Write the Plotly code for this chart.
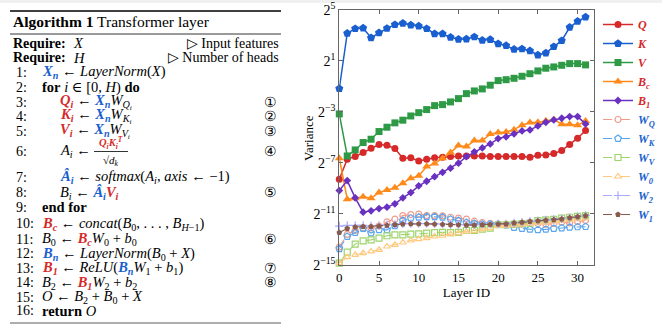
import plotly.graph_objects as go
import numpy as np

W, H = 662, 325

layers = list(range(32))

# log2(variance)
Q_log2 = [-8.28,-6.71,-6.51,-6.20,-5.85,-5.57,-5.62,-5.88,-6.64,-6.61,-6.85,-6.71,-6.61,-6.56,-6.51,-6.46,
          -6.46,-6.46,-6.46,-6.51,-6.51,-6.51,-6.51,-6.51,-6.56,-6.40,-6.38,-6.27,-6.04,-5.57,-5.07,-4.47]
K_log2 = [-1.19,3.15,3.51,3.56,2.80,3.19,3.53,3.82,3.93,3.79,3.72,3.51,3.11,3.11,2.83,2.68,
          2.70,2.86,2.60,2.65,2.33,2.18,1.89,1.92,1.78,1.45,1.60,2.10,2.57,3.61,4.08,4.42]
V_log2 = [-3.17,-6.46,-5.99,-5.41,-5.15,-4.55,-4.21,-3.87,-3.66,-3.33,-3.07,-2.83,-2.52,-2.44,-2.23,-1.97,
          -1.58,-1.37,-1.21,-0.92,-0.56,-0.49,-0.38,-0.22,-0.02,0.20,0.41,0.51,0.64,0.77,0.77,0.67]
Bc_log2 = [-6.64,-9.85,-9.77,-9.66,-9.77,-9.33,-9.12,-8.96,-8.59,-8.20,-8.02,-7.29,-7.06,-6.64,-6.20,-5.65,
           -5.73,-5.26,-5.26,-4.75,-4.62,-4.58,-4.40,-4.05,-3.85,-3.82,-3.70,-3.60,-3.97,-3.97,-4.06,-3.73]
B1_log2 = [-9.17,-8.39,-9.74,-10.86,-10.76,-10.58,-10.47,-10.21,-9.74,-9.33,-8.80,-8.44,-8.08,-7.74,-7.42,-7.03,
           -6.51,-6.14,-5.83,-5.52,-5.10,-4.96,-4.73,-4.50,-4.42,-4.11,-3.82,-3.64,-3.51,-3.38,-3.38,-3.95]
WQ_log2 = [-13.6,-12.6,-12.3,-12.1,-12.1,-11.95,-11.63,-11.41,-11.13,-11.05,-11.02,-11.13,-11.13,-11.15,-11.26,-11.33,
           -11.41,-11.57,-11.68,-11.74,-11.80,-11.80,-11.80,-11.80,-11.72,-11.75,-11.80,-11.75,-11.65,-11.70,-11.60,-11.52]
WK_log2 = [-13.73,-12.77,-12.46,-12.15,-12.50,-12.25,-12.25,-11.93,-11.52,-11.33,-11.26,-11.22,-11.22,-11.26,-11.41,-11.52,
           -11.68,-11.74,-11.80,-11.80,-11.80,-11.88,-12.06,-12.14,-12.21,-12.25,-12.21,-12.14,-12.10,-12.05,-12.02,-12.00]
WV_log2 = [-14.85,-13.99,-13.37,-13.11,-13.03,-12.89,-12.71,-12.64,-12.64,-12.59,-12.56,-12.51,-12.46,-12.44,-12.46,-12.44,
           -12.30,-12.30,-12.19,-12.11,-11.85,-11.85,-11.80,-11.76,-11.72,-11.52,-11.46,-11.42,-11.33,-11.26,-11.20,-11.14]
W0_log2 = [-14.85,-14.38,-14.20,-14.07,-13.94,-13.81,-13.55,-13.42,-13.24,-13.08,-12.97,-12.89,-12.77,-12.71,-12.59,-12.51,
           -12.38,-12.33,-12.19,-12.11,-11.93,-11.91,-11.88,-11.82,-11.76,-11.70,-11.66,-11.59,-11.52,-11.46,-11.40,-11.33]
W2_log2 = [-11.95,-11.90,-11.90,-11.90,-11.95,-11.90,-11.85,-11.82,-11.78,-11.76,-11.76,-11.76,-11.78,-11.80,-11.83,-11.84,
           -11.86,-11.86,-11.83,-11.80,-11.78,-11.78,-11.70,-11.64,-11.58,-11.54,-11.48,-11.44,-11.38,-11.30,-11.22,-11.12]
W1_log2 = [-12.46,-12.14,-12.03,-12.00,-11.99,-11.96,-11.90,-11.85,-11.80,-11.78,-11.78,-11.78,-11.80,-11.82,-11.85,-11.86,
           -11.88,-11.88,-11.85,-11.82,-11.80,-11.80,-11.72,-11.66,-11.59,-11.55,-11.50,-11.46,-11.40,-11.30,-11.22,-11.14]

ytick_exps = [5, 1, -3, -7, -11, -15]
xtick_vals = [0, 5, 10, 15, 20, 25, 30]

RED = "#d42a2a"
BLUE = "#1a5fcf"

def px(x): return x / W
def py(y): return 1 - y / H

fig = go.Figure()

light = [
    ("W<sub>Q</sub>", WQ_log2, "#f09a8a", "circle-open", 6),
    ("W<sub>K</sub>", WK_log2, "#5aa6ee", "pentagon-open", 7),
    ("W<sub>V</sub>", WV_log2, "#9ed46c", "square-open", 6),
    ("W<sub>0</sub>", W0_log2, "#ffc97f", "triangle-up-open", 6),
    ("W<sub>2</sub>", W2_log2, "#a9a9ff", "cross-thin-open", 6),
    ("W<sub>1</sub>", W1_log2, "#8a5a4c", "pentagon", 6),
]
main = [
    ("Q", Q_log2, "#d62a2a", "circle", 7),
    ("K", K_log2, "#1a5fcf", "pentagon", 8.5),
    ("V", V_log2, "#2e9a46", "square", 7),
    ("B<sub>c</sub>", Bc_log2, "#ff8a1c", "triangle-up", 8),
    ("B<sub>1</sub>", B1_log2, "#6a30c0", "diamond", 6),
]

def add(name, vals, color, sym, size, dash, namecolor, width, rank):
    fig.add_trace(go.Scatter(
        x=layers, y=2.0 ** np.array(vals), mode="lines+markers",
        name=f"<span style='color:{namecolor}'><b><i>{name}</i></b></span>",
        line=dict(color=color, width=width, dash=dash),
        marker=dict(symbol=sym, size=size, color=color,
                    line=dict(color=color, width=1.2 if "open" in sym else 0)),
        cliponaxis=False, legendrank=rank))

for i, (n, v, c, s, sz) in enumerate(light):
    add(n, v, c, s, sz, "dash", BLUE, 1.1, 100 + i)
for i, (n, v, c, s, sz) in enumerate(main):
    add(n, v, c, s, sz, "solid", RED, 1.5, i)

serif = "Liberation Serif, DejaVu Serif, serif"
axcol = "#666666"
fig.update_xaxes(domain=[px(339.3), px(593.5)], range=[0, 32], tickvals=xtick_vals,
                 ticks="inside", ticklen=4, tickcolor=axcol, showline=True, linecolor=axcol,
                 linewidth=1, mirror="ticks", showgrid=False, zeroline=False, automargin=False,
                 ticklabeloverflow="allow",
                 tickfont=dict(family=serif, size=13, color="black"),
                 title=dict(text="Layer ID", font=dict(family=serif, size=13, color="black"), standoff=2))
fig.update_yaxes(domain=[py(265), py(9.6)], type="log",
                 range=[np.log10(2.0 ** -15) - 1e-4, np.log10(2.0 ** 5) + 1e-4],
                 tickvals=[2.0 ** e for e in ytick_exps],
                 ticktext=[f"2<sup>{str(e).replace('-', '−')}</sup>" for e in ytick_exps],
                 ticks="inside", ticklen=4, tickcolor=axcol, showline=True, linecolor=axcol,
                 linewidth=1, mirror="ticks", showgrid=False, zeroline=False, automargin=False,
                 ticklabeloverflow="allow",
                 tickfont=dict(family=serif, size=14, color="black"))

# ---------------- Algorithm panel (text) ----------------
ann = []
FS = 14.5
def T(x, y, text, anchor="left", size=FS, color="black", angle=0):
    ann.append(dict(x=px(x), y=py(y), xref="paper", yref="paper", text=text, showarrow=False,
                    xanchor=anchor, yanchor="middle", borderpad=0, textangle=angle,
                    font=dict(family=serif, size=size, color=color)))

# y-axis title
T(308, 138, "Variance", anchor="center", size=13, angle=-90)

def bv(s, col):
    return f"<span style='color:{col}'><b><i>{s}</i></b></span>"

Xn = bv("X<sub>n</sub>", BLUE)
Bn = bv("B<sub>n</sub>", BLUE)
Ahat = bv("Â<sub>i</sub>", BLUE)
Qi = bv("Q<sub>i</sub>", RED)
Ki = bv("K<sub>i</sub>", RED)
Vi = bv("V<sub>i</sub>", RED)
Bc = bv("B<sub>c</sub>", RED)
B1 = bv("B<sub>1</sub>", RED)
AR = "\u2005←\u2005"
PL = "\u2005+\u2005"

T(12, 21, "<b>Algorithm 1</b> Transformer layer", size=15.5)
T(12, 43, "<b>Require:</b>", size=14)
T(72, 43, "<i>X</i>")
T(280, 43, "▷ Input features", anchor="right", size=14)
T(12, 58, "<b>Require:</b>", size=14)
T(72, 58, "<i>H</i>")
T(280, 58, "▷ Number of heads", anchor="right", size=14)

lines = [
    (72, 41, Xn + AR + "<i>LayerNorm</i>(<i>X</i>)", None),
    (87, 41, "<b>for</b> <i>i</i> ∈ [0, <i>H</i>) <b>do</b>", None),
    (102, 59, Qi + AR + Xn + "<i>W<sub>Q<sub>i</sub></sub></i>", "①"),
    (116.5, 59, Ki + AR + Xn + "<i>W<sub>K<sub>i</sub></sub></i>", "②"),
    (131, 59, Vi + AR + Xn + "<i>W<sub>V<sub>i</sub></sub></i>", "③"),
    (151, 59, "<i>A<sub>i</sub></i>" + AR, "④"),
    (177, 59, Ahat + AR + "<i>softmax</i>(<i>A<sub>i</sub></i>, <i>axis</i>" + AR + "−1)", None),
    (193, 59, "<i>B<sub>i</sub></i>" + AR + Ahat + Vi, "⑤"),
    (207.5, 41, "<b>end for</b>", None),
    (223.5, 41, Bc + AR + "<i>concat</i>(<i>B</i><sub>0</sub>, . . . , <i>B<sub>H</sub></i><sub>−1</sub>)", None),
    (239, 41, "<i>B</i><sub>0</sub>" + AR + Bc + "<i>W</i><sub>0</sub>" + PL + "<i>b</i><sub>0</sub>", "⑥"),
    (253.5, 41, Bn + AR + "<i>LayerNorm</i>(<i>B</i><sub>0</sub>" + PL + "<i>X</i>)", None),
    (268, 41, B1 + AR + "<i>ReLU</i>(" + Bn + "<i>W</i><sub>1</sub>" + PL + "<i>b</i><sub>1</sub>)", "⑦"),
    (282.5, 41, "<i>B</i><sub>2</sub>" + AR + B1 + "<i>W</i><sub>2</sub>" + PL + "<i>b</i><sub>2</sub>", "⑧"),
    (297, 41, "<i>O</i>" + AR + "<i>B</i><sub>2</sub>" + PL + "<i>B</i><sub>0</sub>" + PL + "<i>X</i>", None),
    (310.5, 41, "<b>return</b> <i>O</i>", None),
]
for k, (y, x, txt, circ) in enumerate(lines, start=1):
    T(15, y, f"{k}:", size=14)
    T(x, y, txt)
    if circ:
        T(270, y, circ, anchor="center", size=14)

# fraction in line 6
T(111, 143, "<span style='color:%s'><b><i>Q<sub>i</sub>K<sub>i</sub><sup>T</sup></i></b></span>" % RED,
  anchor="center", size=10.5)
T(111, 160.5, "√<i>d<sub>k</sub></i>", anchor="center", size=11)

shapes = [
    dict(type="rect", xref="paper", yref="paper", x0=0, x1=1, y0=py(3), y1=1,
         fillcolor="#f0f0f0", line=dict(width=0), layer="below"),
    dict(type="line", xref="paper", yref="paper", x0=px(10), x1=px(281), y0=py(11), y1=py(11),
         line=dict(color="black", width=1.6)),
    dict(type="line", xref="paper", yref="paper", x0=px(10), x1=px(281), y0=py(34), y1=py(34),
         line=dict(color="black", width=0.8)),
    dict(type="line", xref="paper", yref="paper", x0=px(10), x1=px(281), y0=py(323), y1=py(323),
         line=dict(color="#333333", width=0.8)),
    dict(type="line", xref="paper", yref="paper", x0=px(94), x1=px(128), y0=py(151.5), y1=py(151.5),
         line=dict(color="black", width=0.8)),
]

fig.update_layout(
    width=W, height=H, margin=dict(l=0, r=0, t=0, b=0, autoexpand=False),
    paper_bgcolor="white", plot_bgcolor="white",
    annotations=ann, shapes=shapes,
    showlegend=True,
    legend=dict(x=px(598), y=py(10), xanchor="left", yanchor="top",
                bgcolor="rgba(0,0,0,0)", borderwidth=0,
                font=dict(family=serif, size=12), tracegroupgap=0),
)

fig.write_html("out.html", config={"displayModeBar": False},
               post_script="document.body.style.margin='0px';")
